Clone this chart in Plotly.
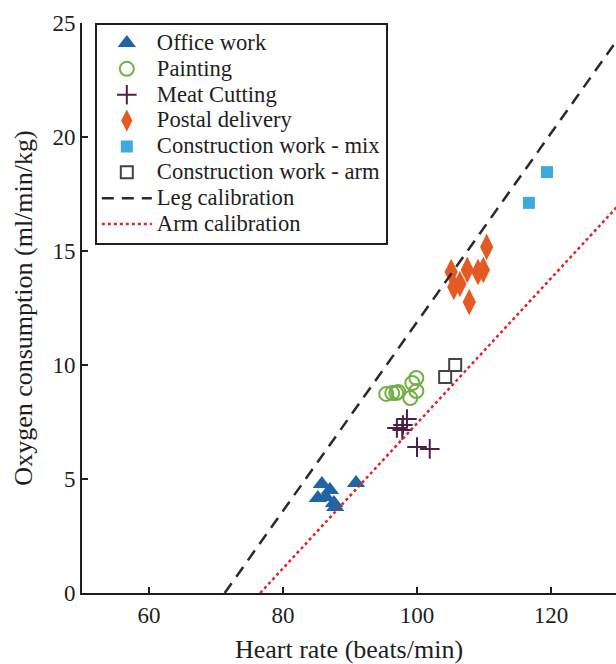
import plotly.graph_objects as go

# ---- data ----
office_hr = [85.8, 87.0, 85.2, 86.4, 87.6, 87.8, 90.9]
office_vo2 = [4.78, 4.52, 4.17, 4.21, 3.95, 3.77, 4.82]

paint_hr = [95.4, 96.3, 96.9, 97.2, 99.3, 99.9, 99.9, 99.0]
paint_vo2 = [8.73, 8.77, 8.77, 8.82, 9.21, 9.43, 8.86, 8.55]

meat_hr = [97.0, 97.9, 98.5, 97.8, 100.0, 101.9]
meat_vo2 = [7.24, 7.37, 7.63, 7.15, 6.40, 6.32]

postal_hr = [110.4, 105.1, 107.5, 109.1, 109.9, 105.5, 106.4, 107.8]
postal_vo2 = [15.18, 14.08, 14.17, 14.08, 14.17, 13.42, 13.55, 12.76]

mix_hr = [119.4, 116.7]
mix_vo2 = [18.46, 17.11]

arm_hr = [105.7, 104.2]
arm_vo2 = [10.0, 9.47]

leg_cal_hr = [71.3, 131.0]
leg_cal_vo2 = [0.0, 24.72]

arm_cal_hr = [76.6, 131.0]
arm_cal_vo2 = [0.0, 17.3]

x_ticks = [60, 80, 100, 120]
y_ticks = [0, 5, 10, 15, 20, 25]

FONT = "Liberation Serif"
INK = "#1e1e1e"


def lg(name):
    return "<span style='font-size:22.6px'>" + name + "</span>"


fig = go.Figure()

fig.add_trace(go.Scatter(x=office_hr, y=office_vo2, mode="markers", name=lg("Office work"),
                         marker=dict(symbol="triangle-up", size=16, color="#2064a6")))
fig.add_trace(go.Scatter(x=paint_hr, y=paint_vo2, mode="markers", name=lg("Painting"),
                         marker=dict(symbol="circle-open", size=14, color="#72b043",
                                     line=dict(width=2, color="#72b043"))))
fig.add_trace(go.Scatter(x=meat_hr, y=meat_vo2, mode="markers", name=lg("Meat Cutting"),
                         marker=dict(symbol="cross-thin-open", size=14, color="#4a2248",
                                     line=dict(width=2, color="#4a2248"))))
fig.add_trace(go.Scatter(x=postal_hr, y=postal_vo2, mode="markers", name=lg("Postal delivery"),
                         marker=dict(symbol="diamond-tall", size=19, color="#e55a22")))
fig.add_trace(go.Scatter(x=mix_hr, y=mix_vo2, mode="markers", name=lg("Construction work - mix"),
                         marker=dict(symbol="square", size=12, color="#3ea9dd")))
fig.add_trace(go.Scatter(x=arm_hr, y=arm_vo2, mode="markers", name=lg("Construction work - arm"),
                         marker=dict(symbol="square-open", size=12, color="#444444",
                                     line=dict(width=2, color="#444444"))))
fig.add_trace(go.Scatter(x=leg_cal_hr, y=leg_cal_vo2, mode="lines", name=lg("Leg calibration"),
                         line=dict(color="#2a2a2a", width=2.5, dash="12px,8px")))
fig.add_trace(go.Scatter(x=arm_cal_hr, y=arm_cal_vo2, mode="lines", name=lg("Arm calibration"),
                         line=dict(color="#e0202a", width=2.5, dash="dot")))

fig.update_layout(
    width=616, height=664,
    margin=dict(l=82, r=0, t=23, b=71),
    paper_bgcolor="white", plot_bgcolor="white",
    font=dict(family=FONT, size=22, color=INK),
    showlegend=True,
    legend=dict(x=0.024, y=1.0, xanchor="left", yanchor="top",
                bordercolor=INK, borderwidth=2, bgcolor="white",
                font=dict(family=FONT, size=17.6, color=INK),
                itemwidth=50, tracegroupgap=0),
    xaxis=dict(range=[50, 129.7], tickvals=x_ticks, ticks="inside", ticklen=6, tickwidth=2,
               tickcolor=INK, showline=True, linecolor=INK, linewidth=2, showgrid=False,
               zeroline=False, tickfont=dict(size=23), automargin=False,
               title=dict(text="Heart rate (beats/min)", font=dict(size=26), standoff=14)),
    yaxis=dict(range=[0, 25], tickvals=y_ticks, ticks="inside", ticklen=6, tickwidth=2,
               tickcolor=INK, showline=True, linecolor=INK, linewidth=2, showgrid=False,
               zeroline=False, tickfont=dict(size=23), automargin=False,
               title=dict(text="Oxygen consumption (ml/min/kg)", font=dict(size=26), standoff=12)),
)

fig.write_html("out.html", config={"displayModeBar": False},
               post_script="document.body.style.margin='0px';")
